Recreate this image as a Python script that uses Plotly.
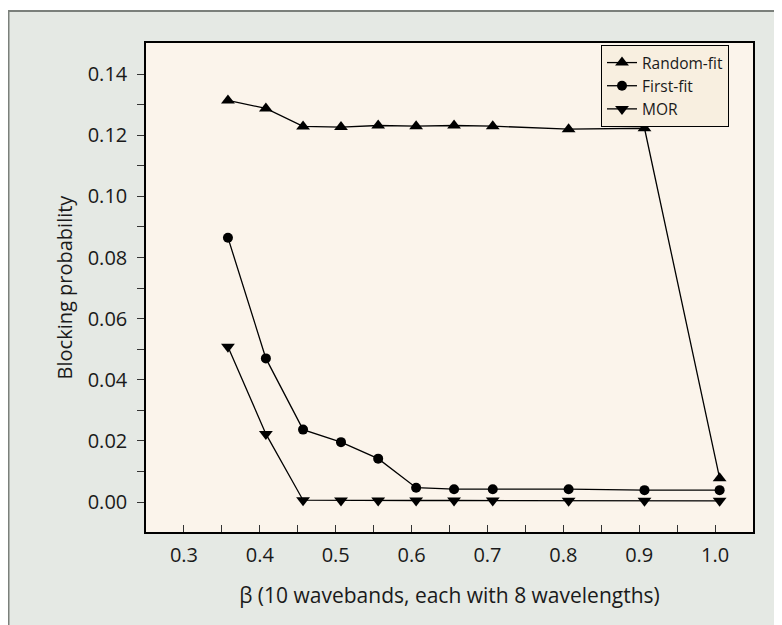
import plotly.graph_objects as go

# ---- data ----
beta = [0.358, 0.408, 0.457, 0.507, 0.556, 0.606, 0.656, 0.707, 0.807, 0.907, 1.006]
random_fit = [0.1314, 0.1288, 0.1229, 0.1227, 0.1232, 0.1230, 0.1232, 0.1230, 0.1220, 0.1223, 0.0078]
first_fit = [0.0865, 0.0470, 0.0237, 0.0196, 0.0142, 0.0047, 0.0042, 0.0042, 0.0042, 0.0039, 0.0039]
mor = [0.0508, 0.0223, 0.0006, 0.0005, 0.0005, 0.0005, 0.0005, 0.0005, 0.0004, 0.0004, 0.0004]

x_ticks = [0.3, 0.35, 0.4, 0.45, 0.5, 0.55, 0.6, 0.65, 0.7, 0.75, 0.8, 0.85, 0.9, 0.95, 1.0]
x_labels = ["0.3", "", "0.4", "", "0.5", "", "0.6", "", "0.7", "", "0.8", "", "0.9", "", "1.0"]
y_ticks = [0.00, 0.01, 0.02, 0.03, 0.04, 0.05, 0.06, 0.07, 0.08, 0.09, 0.10, 0.11, 0.12, 0.13, 0.14]
y_labels = ["0.00", "", "0.02", "", "0.04", "", "0.06", "", "0.08", "", "0.10", "", "0.12", "", "0.14"]

FONT = "Open Sans"
TXT = "#1a1a1a"

fig = go.Figure()
series = [
    ("Random-fit", random_fit, "triangle-up", 12),
    ("First-fit", first_fit, "circle", 10),
    ("MOR", mor, "triangle-down", 12),
]
for name, ys, sym, sz in series:
    fig.add_trace(go.Scatter(
        x=beta, y=ys, name=name, mode="lines+markers",
        line=dict(color="black", width=1.3),
        marker=dict(symbol=sym, size=sz, color="black"),
    ))

W, H = 782, 625
L, T = 138, 35
pw, ph = 607, 489
R, B = W - L - pw, H - T - ph

def px(xp):
    return (xp - L) / pw

def py(yp):
    return (T + ph - yp) / ph

panel_col = "#e5e9e4"
shapes = [
    dict(type="rect", xref="paper", yref="paper", x0=px(-5), x1=px(W + 5), y0=py(2), y1=py(-5),
         fillcolor="white", line=dict(width=0), layer="above"),
    dict(type="line", xref="paper", yref="paper", x0=px(0), x1=px(W + 5), y0=py(3), y1=py(3),
         line=dict(color="#7b807b", width=2), layer="above"),
    dict(type="line", xref="paper", yref="paper", x0=px(0.75), x1=px(0.75), y0=py(2), y1=py(H + 5),
         line=dict(color="#7b807b", width=1.5), layer="above"),
]

fig.update_layout(
    width=W, height=H,
    margin=dict(l=L, r=R, t=T, b=B, pad=0, autoexpand=False),
    paper_bgcolor=panel_col,
    plot_bgcolor="#fbf4eb",
    font=dict(family=FONT, size=20, color=TXT),
    shapes=shapes,
    showlegend=True,
    legend=dict(
        x=px(593), y=py(37), xanchor="left", yanchor="top",
        bgcolor="#f8efe0", bordercolor="black", borderwidth=1,
        font=dict(family=FONT, size=15.5, color=TXT),
        tracegroupgap=0, itemwidth=30,
    ),
    xaxis=dict(
        range=[0.25, 1.05], tickmode="array", tickvals=x_ticks, ticktext=x_labels,
        ticks="inside", ticklen=7, tickwidth=1, tickcolor="#333",
        showline=True, linecolor="black", linewidth=1.5, mirror=True,
        showgrid=False, zeroline=False, automargin=False,
        tickfont=dict(family=FONT, size=20, color=TXT),
        ticklabelstandoff=4,
        title=dict(text="β (10 wavebands, each with 8 wavelengths)", standoff=22,
                   font=dict(family=FONT, size=21, color=TXT)),
    ),
    yaxis=dict(
        range=[-0.0098, 0.1502], tickmode="array", tickvals=y_ticks, ticktext=y_labels,
        ticks="outside", ticklen=7, tickwidth=1, tickcolor="#333",
        showline=True, linecolor="black", linewidth=1.5, mirror=True,
        showgrid=False, zeroline=False, automargin=False,
        tickfont=dict(family=FONT, size=20, color=TXT),
        ticklabelstandoff=6,
        title=dict(text="Blocking probability", standoff=10,
                   font=dict(family=FONT, size=20, color=TXT)),
    ),
)

fig.write_html("out.html")
